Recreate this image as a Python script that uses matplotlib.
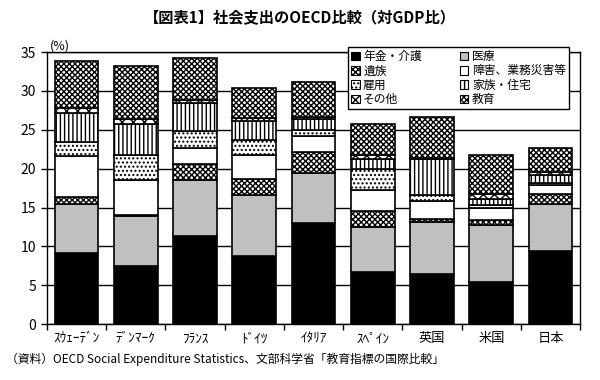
import numpy as np
import matplotlib
matplotlib.use("Agg")
import matplotlib.pyplot as plt
from matplotlib.patches import Patch

plt.rcParams['font.family'] = ['Noto Sans CJK JP', 'DejaVu Sans']
plt.rcParams['hatch.linewidth'] = 1.0

countries = ["ｽｳｪｰﾃﾞﾝ", "ﾃﾞﾝﾏｰｸ", "ﾌﾗﾝｽ", "ﾄﾞｲﾂ", "ｲﾀﾘｱ",
             "ｽﾍﾟｲﾝ", "英国", "米国", "日本"]
categories = ["年金・介護", "医療", "遺族", "障害、業務災害等",
              "雇用", "家族・住宅", "その他", "教育"]

# segment sizes (% of GDP), bottom to top
pension = [9.1, 7.5, 11.3, 8.8, 13.0, 6.7, 6.4, 5.4, 9.4]
health = [6.4, 6.4, 7.3, 7.8, 6.5, 5.8, 6.8, 7.4, 6.1]
survivors = [0.8, 0.2, 2.0, 2.1, 2.6, 2.1, 0.3, 0.6, 1.3]
disability = [5.3, 4.4, 2.0, 3.0, 2.1, 2.6, 2.3, 1.6, 1.1]
unemployment = [1.8, 3.3, 2.2, 2.0, 0.8, 2.8, 0.8, 0.3, 0.3]
family = [3.8, 4.0, 3.7, 2.4, 1.4, 1.3, 4.6, 0.8, 1.0]
other = [0.6, 0.6, 0.3, 0.4, 0.2, 0.4, 0.2, 0.6, 0.4]
education = [6.1, 6.8, 5.5, 3.9, 4.5, 4.1, 5.2, 5.0, 3.0]

series = [pension, health, survivors, disability, unemployment, family, other, education]
faces = ["black", "#c0c0c0", "white", "white", "white", "white", "white", "white"]
hatches = [None, None, "xxxxxx", None, "....", "||||", "xxx", "xxxxxx"]

fig = plt.figure(figsize=(6, 3.8), dpi=100)
ax = fig.add_axes([0.078, 0.147, 0.889, 0.716])

x = np.arange(len(countries))
bottom = np.zeros(len(countries))
handles = []
for vals, fc, h, lab in zip(series, faces, hatches, categories):
    ax.bar(x, vals, width=0.74, bottom=bottom, color=fc, hatch=h,
           edgecolor="black", linewidth=1.2, zorder=3)
    bottom += np.array(vals)
    handles.append(Patch(facecolor=fc, hatch=h, edgecolor="black", linewidth=0.8, label=lab))

ax.set_xlim(-0.5, len(countries) - 0.5)
ax.set_ylim(0, 35)
ax.set_yticks(np.arange(0, 36, 5))
ax.yaxis.grid(True, color="black", linewidth=1.0, zorder=0)
ax.set_axisbelow(True)
ax.tick_params(axis="y", direction="out", length=4, width=1, labelsize=10)
ax.set_xticks(x)
ax.set_xticklabels(countries, fontsize=9.5)
ax.tick_params(axis="x", length=0, pad=6)
ax.set_xticks(np.arange(-0.5, len(countries), 1), minor=True)
ax.tick_params(axis="x", which="minor", direction="out", length=4, width=1)
for s in ax.spines.values():
    s.set_linewidth(1.0)
    s.set_color("black")

# legend order: column-major for 2 columns
order = [0, 2, 4, 6, 1, 3, 5, 7]
leg = ax.legend([handles[i] for i in order], [categories[i] for i in order],
                ncol=2, loc="upper right", bbox_to_anchor=(0.99, 1.04),
                fontsize=8.5, frameon=True, fancybox=False, edgecolor="black",
                framealpha=1, handlelength=0.75, handleheight=0.75, handletextpad=0.3,
                columnspacing=3.2, labelspacing=0.12, borderpad=0.25)
leg.get_frame().set_linewidth(1.0)
leg.set_zorder(5)

fig.text(0.5, 0.955, "【図表1】社会支出のOECD比較（対GDP比）", ha="center", va="center",
         fontsize=11, fontweight="bold")
fig.text(0.1, 0.88, "(%)", ha="center", va="center", fontsize=9)
fig.text(0.01, 0.055, "（資料）OECD Social Expenditure Statistics、文部科学省「教育指標の国際比較」",
         ha="left", va="center", fontsize=8.5)

fig.savefig("out.png", dpi=100)
